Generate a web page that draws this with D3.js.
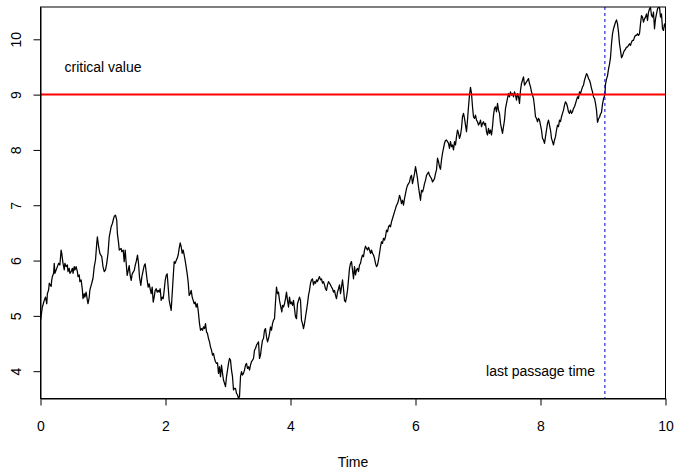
<!DOCTYPE html>
<html>
<head>
<meta charset="utf-8">
<script src="https://cdn.jsdelivr.net/npm/d3@7"></script>
<style>
  body { margin: 0; background: #fff; }
  svg { display: block; }
  text { font-family: "Liberation Sans", Arial, Helvetica, sans-serif; fill: #000; }
</style>
</head>
<body>
<svg id="chart" width="675" height="469"></svg>
<script>
// Simulated Brownian path X(t), sampled at irregular times
const times = [
  0.00,0.03,0.06,0.08,0.10,0.11,0.13,0.14,0.17,0.18,0.19,0.21,0.22,0.23,0.25,0.27,0.29,0.31,0.33,0.34,
  0.36,0.38,0.39,0.41,0.43,0.44,0.46,0.47,0.49,0.51,0.52,0.54,0.55,0.57,0.59,0.60,0.62,0.63,0.65,0.67,
  0.68,0.70,0.71,0.73,0.75,0.76,0.78,0.79,0.82,0.84,0.86,0.88,0.90,0.91,0.93,0.95,0.98,1.00,1.02,1.04,
  1.06,1.08,1.10,1.13,1.15,1.17,1.18,1.20,1.22,1.23,1.25,1.26,1.29,1.30,
  1.323,1.339,1.355,1.371,1.387,1.403,1.419,1.435,1.451,1.467,1.483,1.499,1.515,1.531,1.552,1.568,1.584,1.605,1.621,1.637,
  1.659,1.675,1.691,1.707,1.723,1.739,1.755,1.771,1.787,1.803,1.819,1.835,1.851,1.867,1.883,1.899,1.915,1.931,1.947,1.963,
  1.979,1.995,2.011,2.027,2.043,2.059,2.075,2.091,2.107,2.123,2.139,2.155,2.171,2.187,2.203,2.219,2.235,2.251,2.267,2.283,
  2.299,2.315,2.331,2.347,2.363,2.379,2.395,2.411,2.427,2.443,2.459,2.475,2.491,2.507,2.523,
  2.544,2.560,2.576,2.592,2.608,2.624,2.640,2.656,2.672,2.688,2.704,2.720,2.736,2.752,2.768,2.784,2.800,2.816,2.832,2.848,
  2.864,2.880,2.896,2.912,2.928,2.944,2.960,2.976,2.992,3.008,3.024,3.040,3.056,3.072,3.088,3.104,3.120,3.136,3.152,3.168,
  3.184,3.200,3.216,3.232,3.248,3.264,3.280,3.296,3.312,3.328,3.344,3.360,3.376,3.392,3.408,3.424,3.440,3.456,3.472,3.488,
  3.504,3.520,3.536,3.552,3.568,3.584,3.600,3.616,3.632,3.648,3.664,3.680,3.696,3.712,3.728,3.744,3.760,3.776,3.792,3.808,
  3.824,3.845,3.861,
  3.872,3.888,3.904,3.920,3.936,3.952,3.968,3.984,4.000,4.016,4.032,4.048,4.064,4.080,4.096,4.112,4.128,4.144,4.160,4.176,
  4.192,4.208,4.224,4.240,4.256,4.272,4.288,4.304,4.320,4.336,4.352,4.368,4.384,4.400,4.416,4.432,4.448,4.464,4.480,4.496,
  4.512,4.528,4.544,4.560,4.576,4.592,4.608,4.624,4.640,4.656,4.672,4.688,4.704,4.720,4.736,4.752,4.768,4.784,4.800,4.816,
  4.832,4.848,4.864,4.880,4.896,4.912,4.928,4.944,4.960,4.976,4.992,5.008,5.024,5.040,5.056,
  5.072,5.088,5.104,5.120,5.136,5.152,5.168,5.184,5.200,5.216,5.232,5.248,5.264,5.280,5.296,5.312,5.328,5.344,5.360,5.376,
  5.392,5.408,5.424,5.440,5.456,5.472,5.488,5.504,5.520,5.536,5.552,5.568,5.584,5.600,5.616,5.632,5.648,5.664,5.680,5.696,
  5.712,5.728,5.744,5.760,5.776,5.792,5.808,5.824,5.840,5.856,5.872,5.888,5.904,5.920,5.936,5.952,5.968,5.984,6.000,6.016,
  6.032,6.048,6.064,6.080,6.096,6.112,6.128,6.144,6.160,6.176,6.192,6.208,6.224,6.240,6.256,6.272,6.288,6.304,6.320,6.336,
  6.352,6.368,6.384,6.400,6.416,6.432,6.448,6.464,6.480,6.496,6.512,6.528,6.544,6.560,6.576,6.592,6.608,6.624,6.640,6.656,
  6.672,6.688,6.704,6.720,6.736,6.752,6.768,6.784,6.800,6.816,6.832,6.848,6.864,6.880,6.896,6.912,6.928,6.944,6.960,6.976,
  6.992,7.008,7.024,7.040,7.056,7.072,7.088,7.104,7.120,7.136,7.152,7.168,7.184,7.200,7.216,7.232,7.248,7.264,7.280,7.296,
  7.312,7.328,7.344,7.360,7.376,7.392,7.408,7.424,7.440,7.456,7.472,7.488,7.504,7.520,7.536,7.552,7.568,7.584,7.600,7.616,
  7.632,7.648,7.664,7.680,7.696,
  7.712,7.728,7.744,7.760,7.776,7.792,7.808,7.824,7.840,7.856,7.872,7.888,7.904,7.920,7.936,7.952,7.968,7.984,8.000,8.016,
  8.032,8.048,8.064,8.080,8.096,8.112,8.128,8.144,8.160,8.176,8.192,8.208,8.224,8.240,8.256,8.272,8.288,8.304,8.320,8.336,
  8.352,8.368,8.384,8.400,8.416,8.432,8.448,8.464,8.480,8.496,8.512,8.528,8.544,8.560,8.576,8.592,8.608,8.624,8.640,8.656,
  8.672,8.688,8.704,8.720,8.736,8.752,8.768,8.784,8.800,8.816,8.832,8.848,8.864,8.880,8.896,
  8.912,8.928,8.944,8.960,8.976,8.992,9.008,9.030,9.040,9.056,9.072,9.088,9.104,9.120,9.136,9.152,9.168,9.184,9.200,9.216,
  9.232,9.248,9.264,9.280,9.296,9.312,9.328,9.344,9.360,9.376,9.392,9.408,9.424,9.440,9.456,9.472,9.488,9.504,9.520,9.536,
  9.552,9.568,9.584,9.600,9.616,9.632,9.648,9.664,9.680,9.696,9.712,9.728,9.744,9.760,9.776,9.792,9.808,9.824,9.840,9.856,
  9.872,9.888,9.904,9.920,9.936,9.952,9.968,9.984,10.000
];
const values = [
  4.92,5.16,5.28,5.34,5.22,5.40,5.47,5.59,5.53,5.65,5.71,5.77,5.95,5.77,5.83,5.89,5.95,5.92,6.19,6.13,
  5.95,5.83,5.95,5.89,5.92,5.80,5.86,5.77,5.80,5.86,5.77,5.89,5.83,5.89,5.80,5.71,5.74,5.62,5.65,5.47,
  5.31,5.40,5.34,5.43,5.28,5.22,5.34,5.47,5.59,5.68,5.89,6.01,6.31,6.43,6.25,6.13,6.07,5.89,5.80,5.83,
  5.95,6.13,6.43,6.61,6.67,6.76,6.80,6.82,6.73,6.49,6.31,6.19,6.22,6.16,
  6.19,5.98,6.19,5.95,5.73,5.82,5.91,5.73,5.64,5.76,5.79,5.82,5.91,5.98,6.10,5.95,5.70,5.55,5.70,5.79,
  5.91,5.94,5.79,5.64,5.52,5.58,5.49,5.40,5.52,5.25,5.34,5.46,5.49,5.43,5.46,5.43,5.49,5.28,5.34,5.31,
  5.46,5.64,5.73,5.76,5.52,5.28,5.19,5.10,5.40,5.70,5.98,5.95,6.00,6.04,6.10,6.22,6.32,6.25,6.13,6.19,
  6.10,6.00,5.88,5.76,5.61,5.37,5.40,5.46,5.34,5.28,5.22,5.25,5.16,5.22,5.10,
  4.86,4.74,4.77,4.74,4.80,4.77,4.86,4.71,4.68,4.59,4.53,4.44,4.38,4.29,4.32,4.23,4.17,4.14,4.15,3.96,
  4.08,3.90,4.11,3.96,3.84,3.78,3.72,3.90,4.02,4.14,4.23,4.20,4.02,3.90,3.66,3.69,3.69,3.60,3.57,3.51,
  3.54,3.90,3.99,3.93,3.96,4.02,4.11,4.14,4.05,4.08,4.02,4.11,4.17,4.20,4.23,4.38,4.41,4.47,4.50,4.53,
  4.23,4.29,4.44,4.56,4.59,4.74,4.77,4.62,4.53,4.59,4.68,4.80,4.74,4.86,4.92,4.95,5.25,5.52,5.40,5.43,
  5.28,5.16,5.07,
  5.19,5.16,5.22,5.31,5.43,5.28,5.16,5.34,5.22,5.25,5.19,5.28,5.13,4.98,4.95,5.22,5.28,5.34,5.28,4.92,
  4.86,4.77,4.86,4.98,5.10,5.22,5.37,5.46,5.59,5.65,5.67,5.56,5.62,5.59,5.65,5.62,5.67,5.71,5.65,5.67,
  5.59,5.62,5.56,5.49,5.46,5.56,5.62,5.59,5.56,5.52,5.49,5.43,5.46,5.37,5.31,5.43,5.49,5.56,5.40,5.52,
  5.65,5.49,5.28,5.25,5.34,5.46,5.65,5.86,5.95,5.98,5.83,5.67,5.89,5.74,5.83,
  5.86,5.80,5.92,5.95,6.04,6.10,6.07,6.19,6.26,6.22,6.19,6.24,6.19,6.13,6.19,6.13,6.10,6.04,5.95,5.89,
  5.92,6.01,6.13,6.25,6.34,6.31,6.40,6.37,6.43,6.55,6.52,6.61,6.64,6.61,6.70,6.76,6.82,6.88,6.94,7.00,
  7.03,7.09,7.18,7.12,7.03,7.09,7.00,7.12,7.21,7.30,7.36,7.39,7.42,7.51,7.54,7.39,7.48,7.57,7.70,7.60,
  7.48,7.33,7.21,7.09,7.27,7.24,7.30,7.39,7.45,7.54,7.57,7.60,7.54,7.51,7.48,7.42,7.45,7.48,7.57,7.64,
  7.85,7.79,7.70,7.65,7.82,7.94,8.03,8.12,8.17,8.18,8.15,8.12,8.03,8.15,8.06,8.09,8.00,8.15,8.09,8.24,
  8.36,8.30,8.21,8.27,8.39,8.60,8.66,8.57,8.45,8.33,8.54,8.78,8.99,9.13,9.02,8.78,8.60,8.57,8.63,8.54,
  8.51,8.45,8.48,8.54,8.42,8.48,8.51,8.45,8.48,8.33,8.27,8.39,8.30,8.36,8.27,8.42,8.63,8.75,8.78,8.69,
  8.84,8.72,8.66,8.48,8.39,8.30,8.42,8.54,8.75,8.84,8.93,9.02,8.96,9.05,8.99,9.02,8.96,9.05,8.99,8.90,
  9.02,8.96,8.84,9.08,9.20,
  9.26,9.32,9.17,9.20,9.23,9.26,9.29,9.20,9.14,9.05,8.99,8.93,8.78,8.60,8.57,8.51,8.57,8.54,8.45,8.36,
  8.21,8.18,8.12,8.24,8.36,8.48,8.54,8.45,8.36,8.21,8.15,8.09,8.18,8.24,8.36,8.45,8.42,8.54,8.51,8.60,
  8.66,8.72,8.81,8.87,8.84,8.78,8.69,8.66,8.72,8.66,8.69,8.75,8.78,8.84,8.90,8.96,8.93,9.05,9.02,9.08,
  9.14,9.17,9.26,9.32,9.38,9.35,9.29,9.26,9.20,9.11,9.05,8.96,8.93,8.84,8.72,
  8.50,8.56,8.59,8.65,8.68,8.83,8.92,9.00,9.19,9.28,9.34,9.46,9.55,9.67,9.92,10.10,10.19,10.25,10.31,10.35,
  10.28,10.13,9.92,9.80,9.67,9.70,9.76,9.80,9.82,9.86,9.86,9.89,9.92,9.89,9.95,9.98,9.98,10.04,10.07,10.07,
  10.10,10.07,10.10,10.28,10.43,10.40,10.31,10.37,10.40,10.46,10.34,10.49,10.55,10.58,10.43,10.40,10.49,10.19,10.37,10.46,
  10.55,10.58,10.58,10.40,10.46,10.19,10.16,10.28,10.22
];

const xTicks = [0, 2, 4, 6, 8, 10];
const yTicks = [4, 5, 6, 7, 8, 9, 10];
const criticalValue = 9;
const lastPassageTime = 9.03;
const xLabel = "Time";
const notes = [
  { t: 1, v: 9.5, text: "critical value" },
  { t: 8, v: 4, text: "last passage time" }
];

const svg = d3.select("#chart");
const plot = { left: 40.5, right: 665.5, top: 7, bottom: 398.5 };

const x = d3.scaleLinear().domain([0, 10]).range([plot.left, plot.right]);
const y = d3.scaleLinear().domain([3.506, 10.584]).range([plot.bottom, plot.top]);

svg.append("defs").append("clipPath").attr("id", "plotClip")
  .append("rect")
  .attr("x", plot.left).attr("y", plot.top)
  .attr("width", plot.right - plot.left).attr("height", plot.bottom - plot.top);

const series = times.map((t, i) => ({ t, v: values[i] }));

const g = svg.append("g").attr("clip-path", "url(#plotClip)");

g.append("path")
  .datum(series)
  .attr("fill", "none")
  .attr("stroke", "#000")
  .attr("stroke-width", 1.25)
  .attr("stroke-linejoin", "round")
  .attr("d", d3.line().x(d => x(d.t)).y(d => y(d.v)));

// horizontal threshold
g.append("line")
  .attr("x1", plot.left).attr("x2", plot.right)
  .attr("y1", y(criticalValue)).attr("y2", y(criticalValue))
  .attr("stroke", "#ff0000").attr("stroke-width", 2);

// vertical marker at the last crossing
g.append("line")
  .attr("x1", x(lastPassageTime)).attr("x2", x(lastPassageTime))
  .attr("y1", plot.top).attr("y2", plot.bottom)
  .attr("stroke", "#0000cc").attr("stroke-width", 1)
  .attr("stroke-dasharray", "3,3");

// annotations
svg.selectAll("text.note")
  .data(notes).enter().append("text")
  .attr("class", "note")
  .attr("x", d => x(d.t)).attr("y", d => y(d.v))
  .attr("dy", "0.35em")
  .attr("text-anchor", "middle")
  .style("font-size", "14px")
  .text(d => d.text);

// axes
const xAxis = svg.append("g")
  .attr("transform", `translate(0,${plot.bottom})`)
  .call(d3.axisBottom(x).tickValues(xTicks).tickFormat(d3.format("d")).tickSize(7).tickSizeOuter(0).tickPadding(16));
xAxis.selectAll("text").style("font-size", "14px").attr("fill", "#000");
xAxis.selectAll("line,path").attr("stroke", "#000");

const yAxis = svg.append("g")
  .attr("transform", `translate(${plot.left},0)`)
  .call(d3.axisLeft(y).tickValues(yTicks).tickFormat(d3.format("d")).tickSize(7).tickSizeOuter(0));
yAxis.selectAll("text")
  .style("font-size", "14px")
  .attr("fill", "#000")
  .attr("x", null).attr("dy", null)
  .attr("text-anchor", "middle")
  .attr("transform", "translate(-24.5,0) rotate(-90)")
  .attr("dy", "0.35em");
yAxis.selectAll("line,path").attr("stroke", "#000");

// frame
svg.append("rect")
  .attr("x", plot.left).attr("y", plot.top)
  .attr("width", plot.right - plot.left).attr("height", plot.bottom - plot.top)
  .attr("fill", "none").attr("stroke", "#000").attr("stroke-width", 1);

svg.append("text")
  .attr("x", (plot.left + plot.right) / 2).attr("y", 462)
  .attr("dy", "0.35em")
  .attr("text-anchor", "middle")
  .style("font-size", "14px")
  .text(xLabel);
</script>
</body>
</html>
